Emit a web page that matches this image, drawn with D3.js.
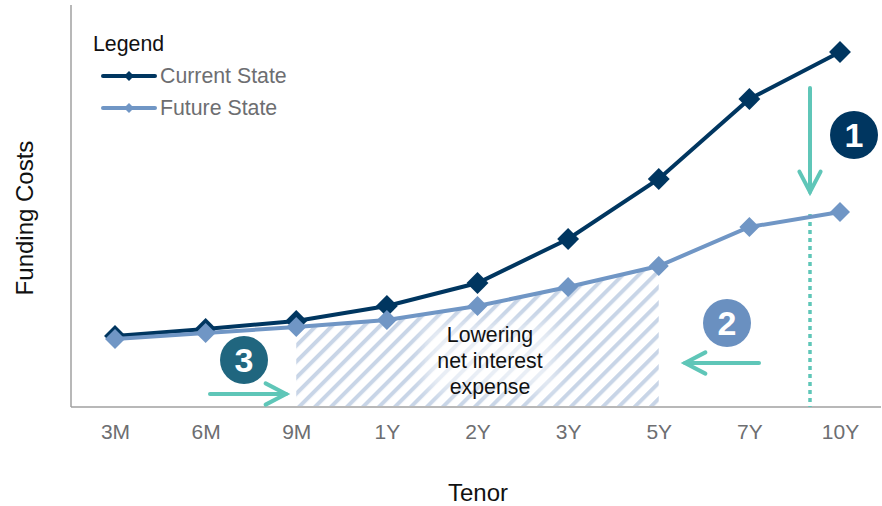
<!DOCTYPE html>
<html>
<head>
<meta charset="utf-8">
<script src="https://cdn.jsdelivr.net/npm/d3@7"></script>
<style>
  html, body { margin: 0; padding: 0; background: #fff; }
  text { font-family: "Liberation Sans", Arial, sans-serif; }
</style>
</head>
<body>
<div id="chart"></div>
<script>
const tenors = ["3M", "6M", "9M", "1Y", "2Y", "3Y", "5Y", "7Y", "10Y"];
const currentState = [17.75, 19.5, 21.5, 25.25, 31, 42, 57, 77, 88.75];
const futureState = [17, 18.5, 20, 21.75, 25.25, 30, 35.25, 45, 48.75];
const hatchedTenors = ["9M", "1Y", "2Y", "3Y", "5Y"];
const noteLines = ["Lowering", "net interest", "expense"];

const width = 882;
const height = 506;
const navy = "#003660";
const steel = "#7096c5";
const teal = "#5fc6b8";

const svg = d3.select("#chart")
    .append("svg")
    .attr("width", width)
    .attr("height", height)
    .style("display", "block");

const x = d3.scalePoint()
    .domain(tenors)
    .range([115, 840]);

const y = d3.scaleLinear()
    .domain([0, 100])
    .range([407, 7]);

// Diagonal hatch for the saved interest area
const defs = svg.append("defs");
const hatch = defs.append("pattern")
    .attr("id", "hatch")
    .attr("patternUnits", "userSpaceOnUse")
    .attr("width", 11.3)
    .attr("height", 11.3)
    .attr("patternTransform", "rotate(45)");
hatch.append("rect")
    .attr("width", 4)
    .attr("height", 11.3)
    .attr("fill", "#c8d5e7");

const blur = defs.append("filter")
    .attr("id", "soft")
    .attr("x", "-20%").attr("y", "-20%")
    .attr("width", "140%").attr("height", "140%");
blur.append("feGaussianBlur").attr("stdDeviation", 8);

const area = d3.area()
    .x(d => x(d))
    .y0(y(0) - 1)
    .y1(d => y(futureState[tenors.indexOf(d)]));

svg.append("path")
    .attr("d", area(hatchedTenors))
    .attr("fill", "url(#hatch)");

// Pale patch behind the note
svg.append("rect")
    .attr("x", 425)
    .attr("y", 325)
    .attr("width", 130)
    .attr("height", 66)
    .attr("fill", "#fff")
    .attr("opacity", 0.6)
    .attr("filter", "url(#soft)");

// Axes
const xAxis = d3.axisBottom(x).tickSize(0).tickPadding(17);
const gx = svg.append("g")
    .attr("transform", `translate(0,${y(0)})`)
    .call(xAxis);
gx.select(".domain").remove();
gx.selectAll("text")
    .attr("font-size", 21)
    .attr("fill", "#6d6e71");

svg.append("line")
    .attr("x1", 71).attr("x2", 881)
    .attr("y1", y(0)).attr("y2", y(0))
    .attr("stroke", "#a0a0a0")
    .attr("stroke-width", 1.5);
svg.append("line")
    .attr("x1", 71).attr("x2", 71)
    .attr("y1", 5).attr("y2", y(0))
    .attr("stroke", "#a0a0a0")
    .attr("stroke-width", 1.5);

svg.append("text")
    .attr("x", 478)
    .attr("y", 500.5)
    .attr("text-anchor", "middle")
    .attr("font-size", 24)
    .attr("fill", "#111")
    .text("Tenor");

svg.append("text")
    .attr("transform", "translate(33,218) rotate(-90)")
    .attr("text-anchor", "middle")
    .attr("font-size", 24)
    .attr("fill", "#111")
    .text("Funding Costs");

// Dotted drop line
svg.append("line")
    .attr("x1", 810).attr("x2", 810)
    .attr("y1", 214).attr("y2", y(0))
    .attr("stroke", teal)
    .attr("stroke-width", 3.5)
    .attr("stroke-dasharray", "4 4");

// Series
const line = d3.line()
    .x((d, i) => x(tenors[i]))
    .y(d => y(d));

function drawSeries(values, color, size) {
    svg.append("path")
        .attr("d", line(values))
        .attr("fill", "none")
        .attr("stroke", color)
        .attr("stroke-width", 4);
    svg.append("g")
        .selectAll("path")
        .data(values)
        .join("path")
        .attr("d", d3.symbol(d3.symbolSquare, size))
        .attr("transform", (d, i) => `translate(${x(tenors[i])},${y(d)}) rotate(45)`)
        .attr("fill", color);
}

drawSeries(currentState, navy, 240);
drawSeries(futureState, steel, 200);

// Note text
svg.append("text")
    .attr("text-anchor", "middle")
    .attr("font-size", 21.3)
    .attr("fill", "#111")
    .selectAll("tspan")
    .data(noteLines)
    .join("tspan")
    .attr("x", 490)
    .attr("y", (d, i) => 342 + i * 26)
    .text(d => d);

// Arrows
function arrow(x1, y1, x2, y2) {
    const a = Math.atan2(y2 - y1, x2 - x1);
    const head = 23;
    const spread = 0.48;
    const g = svg.append("g")
        .attr("fill", "none")
        .attr("stroke", teal)
        .attr("stroke-width", 4)
        .attr("stroke-linecap", "round")
        .attr("stroke-linejoin", "miter");
    g.append("line")
        .attr("x1", x1).attr("y1", y1)
        .attr("x2", x2).attr("y2", y2);
    g.append("polyline")
        .attr("points", [
            [x2 - head * Math.cos(a - spread), y2 - head * Math.sin(a - spread)],
            [x2, y2],
            [x2 - head * Math.cos(a + spread), y2 - head * Math.sin(a + spread)]
        ].join(" "));
}

arrow(810, 88, 810, 192);
arrow(759, 363, 685, 363);
arrow(210, 394, 286, 394);

// Numbered badges
const badges = [
    { n: "1", cx: 854, cy: 135, fill: navy },
    { n: "2", cx: 727, cy: 323, fill: "#6a90c0" },
    { n: "3", cx: 244, cy: 360, fill: "#20667f" }
];
badges.forEach(b => {
    svg.append("circle")
        .attr("cx", b.cx).attr("cy", b.cy).attr("r", 24)
        .attr("fill", b.fill);
    svg.append("text")
        .attr("x", b.cx).attr("y", b.cy + 12)
        .attr("text-anchor", "middle")
        .attr("font-size", 34)
        .attr("font-weight", "bold")
        .attr("fill", "#fff")
        .text(b.n);
});

// Legend
svg.append("text")
    .attr("x", 93).attr("y", 51)
    .attr("font-size", 21.3)
    .attr("fill", "#111")
    .text("Legend");

const legendRows = [
    { label: "Current State", color: navy, yy: 76 },
    { label: "Future State", color: steel, yy: 108 }
];
legendRows.forEach(r => {
    svg.append("line")
        .attr("x1", 103).attr("x2", 155)
        .attr("y1", r.yy).attr("y2", r.yy)
        .attr("stroke", r.color)
        .attr("stroke-width", 4)
        .attr("stroke-linecap", "round");
    svg.append("path")
        .attr("d", d3.symbol(d3.symbolSquare, 50))
        .attr("transform", `translate(129,${r.yy}) rotate(45)`)
        .attr("fill", r.color);
    svg.append("text")
        .attr("x", 160).attr("y", r.yy + 7)
        .attr("font-size", 21.3)
        .attr("fill", "#6d6e71")
        .text(r.label);
});
</script>
</body>
</html>
